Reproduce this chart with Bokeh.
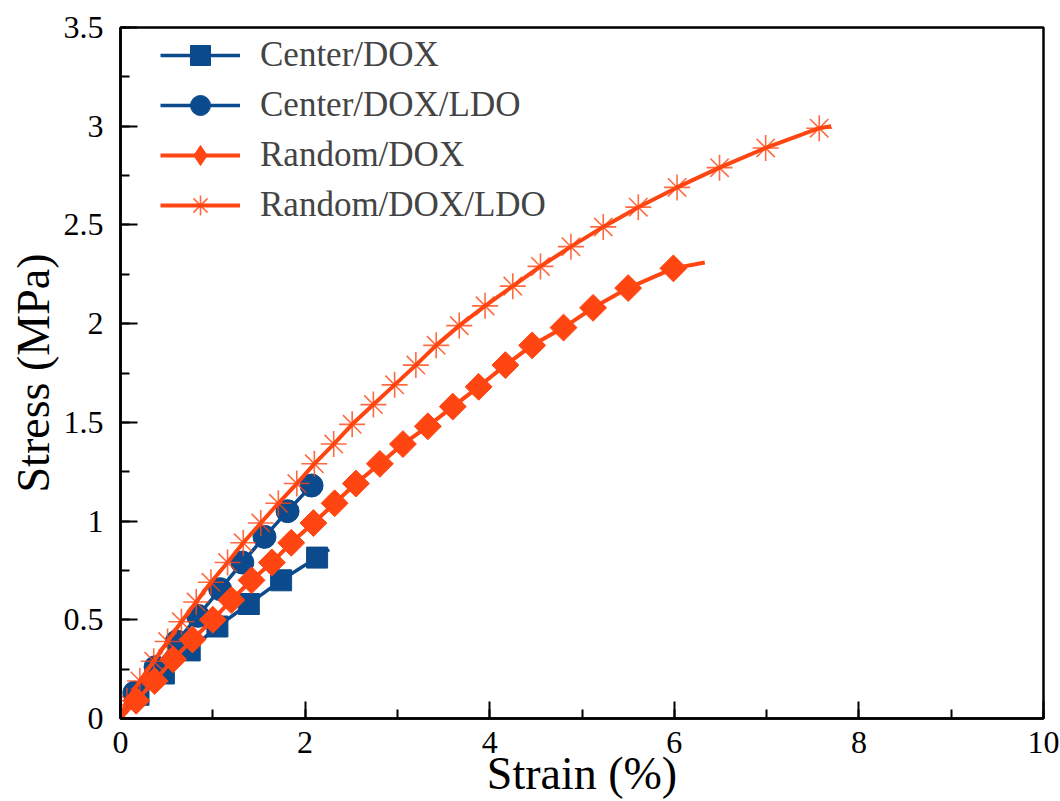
from math import pi
from bokeh.plotting import figure
from bokeh.models import Range1d, SingleIntervalTicker, Legend, LegendItem
from bokeh.embed import file_html
from bokeh.resources import INLINE

# Center/DOX
cd_strain = [0.195, 0.47, 0.75, 1.05, 1.39, 1.74, 2.13]
cd_stress = [0.12, 0.228, 0.345, 0.466, 0.58, 0.70, 0.815]
cd_end = (2.26, 0.856)

# Center/DOX/LDO
cdl_strain = [0.15, 0.38, 0.61, 0.84, 1.08, 1.32, 1.56, 1.81, 2.07]
cdl_stress = [0.13, 0.26, 0.39, 0.52, 0.655, 0.79, 0.92, 1.05, 1.18]
cdl_end = (2.07, 1.18)

# Random/DOX
rd_strain = [0.17, 0.37, 0.57, 0.78, 1.00, 1.20, 1.42, 1.64, 1.85, 2.09, 2.32, 2.55,
             2.81, 3.06, 3.33, 3.60, 3.88, 4.17, 4.46, 4.80, 5.12, 5.50, 5.99]
rd_stress = [0.09, 0.19, 0.30, 0.40, 0.50, 0.60, 0.70, 0.79, 0.89, 0.99, 1.09, 1.19,
             1.29, 1.39, 1.48, 1.58, 1.68, 1.79, 1.89, 1.98, 2.08, 2.18, 2.28]
rd_end = (6.33, 2.31)

# Random/DOX/LDO
rdl_strain = [0.07, 0.21, 0.36, 0.51, 0.66, 0.82, 0.98, 1.16, 1.33, 1.52, 1.71, 1.91,
              2.10, 2.31, 2.51, 2.74, 2.97, 3.20, 3.42, 3.67, 3.95, 4.25, 4.55, 4.88,
              5.23, 5.61, 6.03, 6.49, 6.99, 7.57]
rdl_stress = [0.09, 0.19, 0.29, 0.39, 0.49, 0.59, 0.69, 0.79, 0.89, 0.99, 1.09, 1.19,
              1.29, 1.39, 1.49, 1.59, 1.69, 1.79, 1.89, 1.99, 2.09, 2.19, 2.29, 2.39,
              2.49, 2.59, 2.69, 2.79, 2.89, 2.99]
rdl_end = (7.70, 3.00)

y_tick_labels = {0: "0", 0.5: "0.5", 1: "1", 1.5: "1.5", 2: "2", 2.5: "2.5", 3: "3", 3.5: "3.5"}

BLUE = "#0B4A8C"
ORANGE = "#FF4511"
FONT = "'Liberation Serif', 'Times New Roman', serif"

p = figure(width=1060, height=801, output_backend="svg", toolbar_location=None,
           x_range=Range1d(0, 10), y_range=Range1d(0, 3.5),
           min_border_left=120, min_border_right=17, min_border_top=27, min_border_bottom=83)
p.grid.visible = False
p.outline_line_color = "black"
p.outline_line_width = 2.5
p.background_fill_color = "white"
p.border_fill_color = "white"

p.xaxis.ticker = SingleIntervalTicker(interval=2, num_minor_ticks=2)
p.yaxis.ticker = SingleIntervalTicker(interval=0.5, num_minor_ticks=2)
p.yaxis.major_label_overrides = y_tick_labels

for ax in (p.xaxis[0], p.yaxis[0]):
    ax.axis_line_width = 2.5
    ax.major_tick_in = 17
    ax.major_tick_out = 0
    ax.minor_tick_in = 9
    ax.minor_tick_out = 0
    ax.major_tick_line_width = 2
    ax.minor_tick_line_width = 2
    ax.major_label_text_font = FONT
    ax.major_label_text_font_size = "32px"
    ax.major_label_text_color = "black"
    ax.axis_label_text_font = FONT
    ax.axis_label_text_font_size = "46px"
    ax.axis_label_text_font_style = "normal"
    ax.axis_label_text_color = "black"

p.xaxis.axis_label = "Strain (%)"
p.yaxis.axis_label = "Stress (MPa)"
p.xaxis.major_label_standoff = 13
p.xaxis.axis_label_standoff = -8
p.yaxis.major_label_standoff = 17
p.yaxis.axis_label_standoff = 2


def curve(xs, ys, end):
    extra = end[0] != xs[-1]
    return ([0] + list(xs) + ([end[0]] if extra else []),
            [0] + list(ys) + ([end[1]] if extra else []))


items = []

x, y = curve(cd_strain, cd_stress, cd_end)
l1 = p.line(x, y, line_color=BLUE, line_width=3.5)
m1 = p.scatter(cd_strain, cd_stress, marker="square", size=21, fill_color=BLUE, line_color=BLUE)
items.append(LegendItem(label="Center/DOX", renderers=[l1, m1]))

x, y = curve(cdl_strain, cdl_stress, cdl_end)
l2 = p.line(x, y, line_color=BLUE, line_width=3.5)
m2 = p.scatter(cdl_strain, cdl_stress, marker="circle", size=23, fill_color=BLUE, line_color=BLUE)
items.append(LegendItem(label="Center/DOX/LDO", renderers=[l2, m2]))

x, y = curve(rd_strain, rd_stress, rd_end)
l3 = p.line(x, y, line_color=ORANGE, line_width=4)
m3 = p.scatter(rd_strain, rd_stress, marker="square", angle=pi / 4, size=19,
               fill_color=ORANGE, line_color=ORANGE)
# legend keys are drawn unrotated, so the key uses the diamond marker
# (it sits entirely inside each rotated square on the plot)
m3_key = p.scatter(rd_strain, rd_stress, marker="diamond", size=19,
                   fill_color=ORANGE, line_color=ORANGE)
items.append(LegendItem(label="Random/DOX", renderers=[l3, m3_key]))

x, y = curve(rdl_strain, rdl_stress, rdl_end)
l4 = p.line(x, y, line_color=ORANGE, line_width=4)
m4 = p.scatter(rdl_strain, rdl_stress, marker="asterisk", size=26, line_color=ORANGE,
               line_width=1.6, line_alpha=0.8)
items.append(LegendItem(label="Random/DOX/LDO", renderers=[l4, m4]))

legend = Legend(items=items, location=(40, 488), orientation="vertical",
                glyph_width=80, glyph_height=50, label_height=50, spacing=-2,
                label_standoff=20, padding=0, margin=0,
                label_text_font=FONT, label_text_font_size="35px",
                border_line_color=None, background_fill_alpha=0)
p.add_layout(legend, "center")

open("out.html", "w").write(file_html(p, INLINE))
